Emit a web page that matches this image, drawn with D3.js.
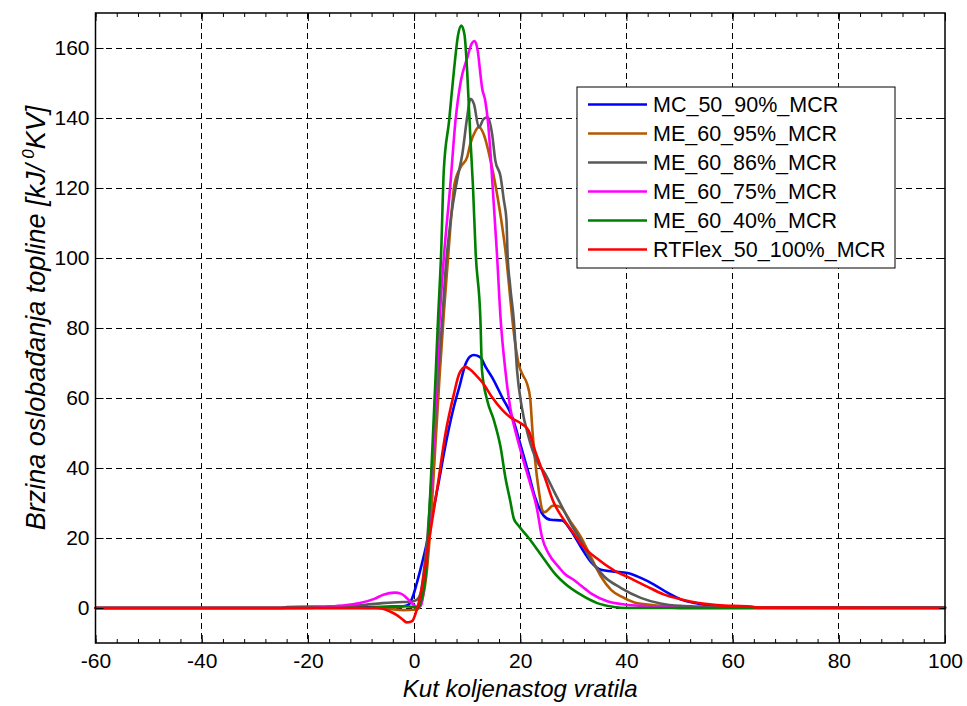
<!DOCTYPE html>
<html>
<head>
<meta charset="utf-8">
<script src="https://cdn.jsdelivr.net/npm/d3@7"></script>
<style>
  html, body { margin: 0; padding: 0; background: #fff; }
  svg { display: block; font-family: "Liberation Sans", Arial, sans-serif; }
</style>
</head>
<body>
<svg id="chart" width="967" height="706"></svg>
<script>
// ---- data (crank angle [deg], heat release rate [kJ/deg]) ----
const seriesNames = ["MC_50_90%_MCR", "ME_60_95%_MCR", "ME_60_86%_MCR", "ME_60_75%_MCR", "ME_60_40%_MCR", "RTFlex_50_100%_MCR"];
const seriesColors = ["#0000ff", "#b35900", "#595959", "#ff00ff", "#008000", "#ff0000"];

const MC_50_90 = [[-60,0],[-25,0],[-10,0.2],[-4,0.4],[-2,0.5],[-1,1.0],[-0.3,3],[0.5,7],[1.3,11.6],[2.5,19.2],[3.5,27],[4.7,36.4],[5.6,44],[6.6,51.6],[7.5,57.5],[8.5,63],[9.7,69.7],[10.5,71.8],[11.3,72.3],[12.5,71.6],[13.5,68.8],[14.7,65.9],[16.6,60.2],[18.5,54.5],[20,46.9],[21.6,38.3],[22.8,31.6],[24.4,26.4],[25.7,25.2],[27.9,25],[29.5,22.2],[31.4,17.5],[33.3,13.2],[35.2,10.9],[37.7,10.4],[40.2,10],[42.7,8.6],[45.2,6.7],[47.8,4.3],[50.3,2.4],[53.4,1.3],[56.6,0.6],[60.4,0.4],[65,0.2],[100,0.2]];

const ME_60_95 = [[-60,0],[-10,0],[-5,-0.2],[-2,-0.6],[0,-0.5],[0.7,-0.3],[1.5,2],[2.5,12],[3.3,28],[4,46],[4.8,66],[5.6,84],[6.4,100],[7,112],[7.6,121],[8.8,126],[10,128.8],[10.6,132.6],[11.6,136.4],[12.2,137.5],[13.1,135.4],[14.4,127.9],[15.6,118.5],[16.6,109],[17.4,99.6],[17.9,92],[18.5,82.6],[19.1,75],[19.7,69.7],[20.5,66.5],[21.3,64],[21.9,59.5],[22.3,50.6],[22.8,42.1],[23.5,33.5],[24.2,27.8],[24.6,27.4],[26.1,29.2],[26.5,29.3],[27.6,28.8],[29.5,24.6],[31.4,20.3],[33.3,14.6],[35.2,9],[37.1,5.2],[39,3.3],[41.5,1.6],[45.2,0.8],[47.8,0.5],[50,0],[100,0]];

const ME_60_86 = [[-60,0],[-25,0],[-24,0.3],[-15,0.5],[-10,0.8],[-6,1.4],[-2,1.7],[-0.5,1.8],[0.5,2.3],[1.2,4],[1.8,10],[2.5,20],[3.2,35],[3.9,52],[4.6,68],[5.3,82],[6,98],[6.9,110.9],[8.1,122.2],[9.1,129.8],[10,140.2],[10.6,145.5],[11.3,143.9],[12.2,137.3],[13.1,139.7],[13.9,140.2],[14.7,135.4],[15.3,127.9],[16.3,123.2],[16.9,116.6],[17.4,110.9],[17.6,101.5],[18.1,92],[18.8,82],[19.4,67.8],[20.3,57.3],[21.6,48.7],[23.1,42.1],[24.7,38.3],[26.6,32.6],[27.6,29.7],[29.5,24.1],[31.4,19.3],[33.3,13.7],[35.8,9],[39,5.7],[42.7,2.9],[46.4,1.3],[50.2,0.6],[54,0.4],[60,0.2],[100,0.2]];

const ME_60_75 = [[-60,0],[-20,0],[-17,0.2],[-14,0.6],[-10.2,1.4],[-7.5,2.6],[-5.8,3.8],[-3.6,4.4],[-2.5,4.1],[-1.7,3.3],[-0.75,1.9],[0,0.8],[0.8,0.2],[1.3,0.7],[1.8,5],[2.5,15.4],[3.4,39.2],[4.2,63],[4.8,82],[5.6,100],[6.8,120.3],[7.8,139.2],[8.8,150.5],[10,157.1],[10.9,161.4],[11.4,162],[12,159.1],[12.5,152.5],[12.8,148.7],[13.4,145],[13.9,139.2],[14.4,129.8],[15,115.6],[15.6,101.5],[16.3,82.6],[17.2,67.8],[18.1,57.3],[19.4,48.7],[20.6,42.1],[21.9,35.4],[23.1,28.7],[24.1,20.2],[25.4,15.4],[27.3,11.6],[28.4,9.7],[30.1,8],[33.3,4.2],[36.4,1.9],[39.6,1],[44,0.5],[47.8,0.2],[50,0],[100,0]];

const ME_60_40 = [[-60,0],[-10,0],[-5,0.3],[-2,0.5],[0,0.3],[0.8,0],[1.5,3],[2,7],[2.5,15],[2.8,24.9],[3.4,44],[4.1,67.8],[4.5,82],[5.1,101.5],[5.6,125],[6.6,139.2],[7.5,153.4],[8.3,163.8],[8.9,166.4],[9.5,163.8],[10,153.4],[10.6,134.5],[11.1,120.3],[11.6,101.5],[12.5,82.3],[12.8,67.8],[13.8,59.2],[15,53.8],[16.3,45.9],[17.2,37.3],[18.1,30.7],[18.8,25.5],[19.7,23.5],[21.6,20],[24.1,14.8],[26.6,9.7],[28.4,7],[31.4,3.8],[34.5,1.4],[37.7,0.3],[40,0],[100,0]];

const RTFlex_50_100 = [[-60,0],[-7,0],[-5.9,-0.2],[-4.5,-1],[-3.4,-1.9],[-2.2,-3.2],[-1.4,-4.1],[-0.6,-3.9],[-0.25,-3.6],[0.3,-1.5],[0.8,1],[1.6,6.9],[2.8,19.2],[4.4,34.5],[5.9,49.7],[7.5,61.1],[8.5,66.9],[9.7,68.9],[10.5,68.2],[11.6,66.6],[13.1,64],[14.7,60.2],[16.6,56.6],[18.1,54.5],[20.3,52.6],[21.6,50.6],[22.8,44.9],[23.7,41.1],[24.7,37],[26.2,30.5],[28.4,24.8],[29.5,22.5],[31.9,17.5],[34.4,14.2],[37.5,10.9],[40.6,8.6],[43.8,6.2],[47,3.9],[50.2,2.5],[53.3,1.5],[56.5,0.9],[60,0.6],[63.5,0.4],[64.5,0.1],[100,0]];

const seriesData = [MC_50_90, ME_60_95, ME_60_86, ME_60_75, ME_60_40, RTFlex_50_100];

const xMajorTicks = [-60, -40, -20, 0, 20, 40, 60, 80, 100];
const xMinorTicks = d3.range(-60, 100.01, 4);
const yMajorTicks = [0, 20, 40, 60, 80, 100, 120, 140, 160];
const xLabel = "Kut koljenastog vratila";
const yLabelMain = "Brzina oslobađanja topline [kJ/";
const yLabelSup = "0";
const yLabelEnd = "KV]";

// ---- layout ----
const svg = d3.select("#chart");
const L = 95.5, R = 945, T = 13, B = 643;
const x = d3.scaleLinear().domain([-60, 100]).range([L, R]);
const y = d3.scaleLinear().domain([-10, 170]).range([B, T]);
const fmt = d => String(d);

// grid
const grid = svg.append("g").attr("stroke", "#000").attr("stroke-width", 1).attr("stroke-dasharray", "6,4").attr("shape-rendering", "crispEdges");
grid.selectAll("line.v").data(xMajorTicks.filter(d => d > -60 && d < 100)).enter().append("line")
  .attr("x1", d => x(d)).attr("x2", d => x(d)).attr("y1", T).attr("y2", B);
grid.selectAll("line.h").data(yMajorTicks).enter().append("line")
  .attr("x1", L).attr("x2", R).attr("y1", d => y(d)).attr("y2", d => y(d));

// series
const line = d3.line().x(d => x(d[0])).y(d => y(d[1])).curve(d3.curveMonotoneX);
const plot = svg.append("g");
seriesData.forEach((s, i) => {
  plot.append("path").datum(s).attr("d", line)
    .attr("fill", "none").attr("stroke", seriesColors[i]).attr("stroke-width", 2.6)
    .attr("stroke-linejoin", "round").attr("stroke-linecap", "round");
});

// axes
function styleAxis(g) {
  g.select(".domain").remove();
  g.selectAll(".tick line").attr("stroke", "#000").attr("stroke-width", 1);
  g.selectAll(".tick text").attr("fill", "#000").attr("font-size", 21).attr("font-family", "'Liberation Sans', Arial, sans-serif");
}
svg.append("g").attr("transform", `translate(0,${B})`)
  .call(d3.axisBottom(x).tickValues(xMajorTicks).tickSize(-8).tickPadding(10).tickFormat(fmt))
  .call(styleAxis);
svg.append("g").attr("transform", `translate(0,${B})`)
  .call(d3.axisBottom(x).tickValues(xMinorTicks).tickSize(-4).tickFormat(""))
  .call(styleAxis);
svg.append("g").attr("transform", `translate(0,${T})`)
  .call(d3.axisTop(x).tickValues(xMajorTicks).tickSize(-8).tickFormat(""))
  .call(styleAxis);
svg.append("g").attr("transform", `translate(0,${T})`)
  .call(d3.axisTop(x).tickValues(xMinorTicks).tickSize(-4).tickFormat(""))
  .call(styleAxis);
svg.append("g").attr("transform", `translate(${L},0)`)
  .call(d3.axisLeft(y).tickValues(yMajorTicks).tickSize(-8).tickPadding(6).tickFormat(fmt))
  .call(styleAxis);
svg.append("g").attr("transform", `translate(${R},0)`)
  .call(d3.axisRight(y).tickValues(yMajorTicks).tickSize(-6).tickFormat(""))
  .call(styleAxis);

// frame
svg.append("rect").attr("x", L).attr("y", T).attr("width", R - L).attr("height", B - T)
  .attr("fill", "none").attr("stroke", "#000").attr("stroke-width", 1.5);

// axis labels
svg.append("text").attr("x", (L + R) / 2).attr("y", 697).attr("text-anchor", "middle")
  .attr("font-size", 24).attr("font-style", "italic").text(xLabel);
const yl = svg.append("text").attr("transform", "translate(45,318) rotate(-90)").attr("text-anchor", "middle")
  .attr("font-size", 27).attr("font-style", "italic");
yl.append("tspan").text(yLabelMain + "\u2009");
yl.append("tspan").attr("dy", -11).attr("font-size", 17).text(yLabelSup);
yl.append("tspan").attr("dy", 11).text(yLabelEnd);

// legend
const lg = svg.append("g");
lg.append("rect").attr("x", 577).attr("y", 87).attr("width", 318).attr("height", 181)
  .attr("fill", "#fff").attr("stroke", "#000").attr("stroke-width", 1);
seriesNames.forEach((n, i) => {
  const yy = 104.5 + i * 29;
  lg.append("line").attr("x1", 588).attr("x2", 647).attr("y1", yy).attr("y2", yy)
    .attr("stroke", seriesColors[i]).attr("stroke-width", 2.6);
  lg.append("text").attr("x", 653).attr("y", yy).attr("dy", "0.36em")
    .attr("font-size", 21.5).attr("fill", "#000").text(n);
});
</script>
</body>
</html>
